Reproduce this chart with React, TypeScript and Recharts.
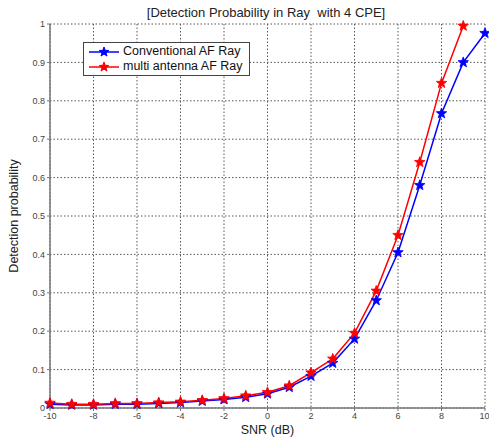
import React from "react";
import {
  LineChart,
  Line,
  XAxis,
  YAxis,
  CartesianGrid,
} from "recharts";

const snrValues = [-10, -9, -8, -7, -6, -5, -4, -3, -2, -1, 0, 1, 2, 3, 4, 5, 6, 7, 8, 9, 10];
const conventional = [0.01, 0.008, 0.008, 0.01, 0.01, 0.012, 0.014, 0.018, 0.022, 0.028, 0.037, 0.054, 0.083, 0.117, 0.18, 0.28, 0.405, 0.58, 0.767, 0.9, 0.976];
const multiAntenna = [0.013, 0.01, 0.01, 0.012, 0.012, 0.014, 0.016, 0.02, 0.025, 0.032, 0.041, 0.058, 0.092, 0.128, 0.195, 0.305, 0.45, 0.64, 0.846, 0.995, null];
const xTicks = [-10, -8, -6, -4, -2, 0, 2, 4, 6, 8, 10];
const yTicks = [0, 0.1, 0.2, 0.3, 0.4, 0.5, 0.6, 0.7, 0.8, 0.9, 1];

const series = [
  { key: "conv", name: "Conventional AF Ray", color: "#0000ff" },
  { key: "multi", name: "multi antenna AF Ray", color: "#ff0000" },
];

const chartData = snrValues.map((snr, i) => ({
  snr,
  conv: conventional[i],
  multi: multiAntenna[i],
}));

const FONT = "'Liberation Sans', Arial, sans-serif";

function starPoints(cx: number, cy: number, r: number) {
  const pts: string[] = [];
  for (let i = 0; i < 10; i++) {
    const rad = i % 2 === 0 ? r : r * 0.42;
    const a = -Math.PI / 2 + (i * Math.PI) / 5;
    pts.push(`${cx + rad * Math.cos(a)},${cy + rad * Math.sin(a)}`);
  }
  return pts.join(" ");
}

function Star(props: any) {
  const { cx, cy, stroke, index } = props;
  if (cx == null || cy == null || props.value == null) return <g key={index} />;
  return (
    <polygon
      key={index}
      points={starPoints(cx, cy, 5.5)}
      fill={stroke}
      stroke={stroke}
      strokeWidth={0.8}
    />
  );
}

function LegendBox() {
  return (
    <div
      style={{
        position: "absolute",
        left: 83,
        top: 42,
        border: "1px solid #444",
        background: "#fff",
        padding: "1px 6px 1px 4px",
        fontFamily: FONT,
        fontSize: 12.5,
        color: "#111",
        lineHeight: "15px",
      }}
    >
      {series.map((s) => (
        <div key={s.key} style={{ display: "flex", alignItems: "center" }}>
          <svg width={32} height={12} style={{ marginRight: 3 }}>
            <line x1={1} y1={6} x2={31} y2={6} stroke={s.color} strokeWidth={1.5} />
            <polygon points={starPoints(16, 6, 5)} fill={s.color} stroke={s.color} />
          </svg>
          <span>{s.name}</span>
        </div>
      ))}
    </div>
  );
}

export default function App() {
  return (
    <div style={{ position: "absolute", left: 0, top: 0, width: 489, height: 438, background: "#fff" }}>
      <LineChart
        width={489}
        height={438}
        data={chartData}
        margin={{ top: 24, right: 4, left: 0, bottom: 0 }}
      >
        <text
          x={266}
          y={17}
          textAnchor="middle"
          style={{ fontFamily: FONT, fontSize: 13, fill: "#222", whiteSpace: "pre" }}
        >
          {"[Detection Probability in Ray  with 4 CPE]"}
        </text>
        <CartesianGrid stroke="#555" strokeDasharray="1.5 2" />
        <XAxis
          dataKey="snr"
          type="number"
          domain={[-10, 10]}
          ticks={xTicks}
          height={30}
          axisLine={{ stroke: "#777", strokeWidth: 1.5 }}
          tickLine={{ stroke: "#777" }}
          tickSize={3}
          tick={{ fontSize: 9, fill: "#444", fontFamily: FONT }}
          label={{
            value: "SNR (dB)",
            position: "insideBottom",
            offset: 4,
            style: { fontSize: 12.5, fill: "#222", fontFamily: FONT },
          }}
        />
        <YAxis
          type="number"
          domain={[0, 1]}
          ticks={yTicks}
          width={50}
          axisLine={{ stroke: "#777", strokeWidth: 1.5 }}
          tickLine={{ stroke: "#777" }}
          tickSize={3}
          tick={{ fontSize: 9, fill: "#444", fontFamily: FONT }}
          label={{
            value: "Detection probability",
            angle: -90,
            position: "insideLeft",
            offset: 14,
            style: { fontSize: 12.5, fill: "#222", fontFamily: FONT, textAnchor: "middle" },
          }}
        />
        {series.map((s) => (
          <Line
            key={s.key}
            dataKey={s.key}
            name={s.name}
            stroke={s.color}
            strokeWidth={1.5}
            dot={<Star />}
            activeDot={false}
            isAnimationActive={false}
          />
        ))}
      </LineChart>
      <LegendBox />
    </div>
  );
}
